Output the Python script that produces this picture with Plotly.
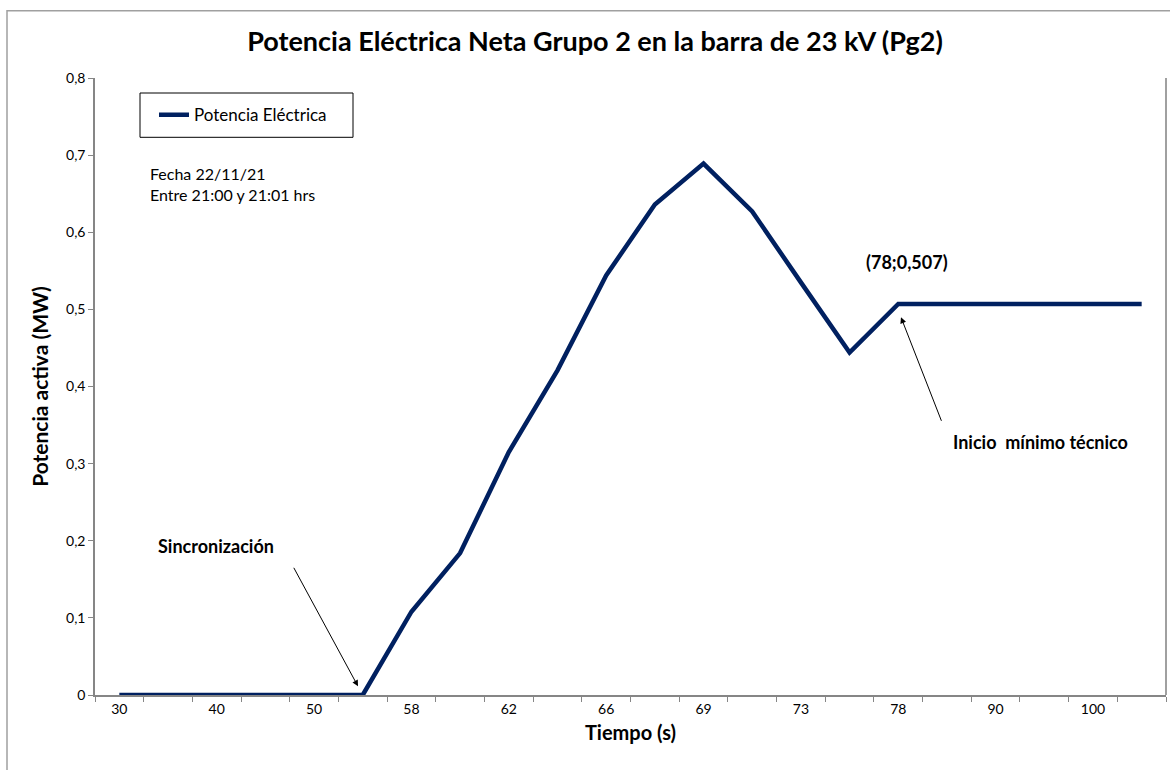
import plotly.graph_objects as go

# Data
potencia = [0, 0, 0, 0, 0, 0,
            0.108, 0.184, 0.315, 0.421, 0.544, 0.636, 0.689,
            0.627, 0.535, 0.444, 0.507,
            0.507, 0.507, 0.507, 0.507, 0.507]
etiquetas_x = ["30", "40", "50", "58", "62", "66", "69", "73", "78", "90", "100"]
serie_nombre = "Potencia Eléctrica"

FONT = "Lato, 'Open Sans', sans-serif"
AXIS_GREY = "#868686"
NAVY = "#002060"

W, H = 1170, 770
L, R, T, B = 95, 1166, 77.7, 694.7   # plot area in pixels


def px(xp):
    return (xp - L) / (R - L)


def py(yp):
    return (B - yp) / (B - T)


n = len(potencia)
x_idx = list(range(n))
tick_pos = list(range(0, 2 * len(etiquetas_x), 2))
minor_pos = [i - 0.5 for i in range(n + 1)]

fig = go.Figure()
fig.add_trace(go.Scatter(
    x=x_idx, y=potencia, mode="lines", name=serie_nombre,
    line=dict(color=NAVY, width=4.5),
    showlegend=True,
))

fig.update_layout(
    width=W, height=H,
    margin=dict(l=L, r=W - R, t=T, b=H - B, autoexpand=False),
    paper_bgcolor="white", plot_bgcolor="white",
    separators=",.",
    font=dict(family=FONT, size=14, color="#000000"),
    title=dict(
        text="<b>Potencia Eléctrica Neta Grupo 2 en la barra de 23 kV (Pg2)</b>",
        font=dict(family=FONT, size=27, color="#000000"),
        xref="container", x=595 / W, xanchor="center",
        yref="container", y=1 - 42 / H, yanchor="middle",
    ),
    showlegend=True,
    legend=dict(
        x=px(154), y=py(97), xanchor="left", yanchor="top",
        bgcolor="rgba(0,0,0,0)", borderwidth=0,
        font=dict(family=FONT, size=17, color="#000000"),
        itemwidth=30,
    ),
)

fig.update_xaxes(
    range=[-0.5, n - 0.5],
    tickmode="array", tickvals=tick_pos, ticktext=etiquetas_x,
    ticks="", showgrid=False, zeroline=False,
    showline=True, linecolor=AXIS_GREY, linewidth=1.5,
    tickfont=dict(family=FONT, size=14, color="#000000"),
    minor=dict(tickmode="array", tickvals=minor_pos, ticks="outside",
               ticklen=5, tickcolor=AXIS_GREY, tickwidth=1, showgrid=False),
    title=dict(text="<b>Tiempo (s)</b>", font=dict(family=FONT, size=20), standoff=10),
)
fig.update_yaxes(
    range=[0, 0.8], dtick=0.1, tick0=0,
    ticks="outside", ticklen=5, tickcolor=AXIS_GREY, tickwidth=1,
    showgrid=False, zeroline=False,
    showline=True, linecolor=AXIS_GREY, linewidth=1.5,
    tickfont=dict(family=FONT, size=14, color="#000000"),
    title=dict(text="<b>Potencia activa (MW)</b>", font=dict(family=FONT, size=21), standoff=12),
)

# Legend frame, right plot edge and outer chart border
fig.add_shape(type="rect", xref="paper", yref="paper",
              x0=px(140), x1=px(353), y0=py(137), y1=py(92.7),
              line=dict(color="#000000", width=1))
fig.add_shape(type="line", xref="paper", yref="paper",
              x0=1, x1=1, y0=0, y1=1,
              line=dict(color="#808080", width=1.5))
fig.add_shape(type="rect", xref="paper", yref="paper",
              x0=px(7), x1=px(1300), y0=py(900), y1=py(10.5),
              line=dict(color="#A0A0A0", width=1.5))

# Text annotations
fig.add_annotation(xref="paper", yref="paper",
                   x=px(148), y=py(162), xanchor="left", yanchor="top", align="left",
                   text="Fecha 22/11/21<br>Entre 21:00 y 21:01 hrs",
                   showarrow=False, font=dict(family=FONT, size=16, color="#000000"))
fig.add_annotation(xref="paper", yref="paper",
                   x=px(215.5), y=py(546), xanchor="center", yanchor="middle",
                   text="<b>Sincronización</b>", showarrow=False,
                   font=dict(family=FONT, size=18, color="#000000"))
fig.add_annotation(xref="paper", yref="paper",
                   x=px(907), y=py(262), xanchor="center", yanchor="middle",
                   text="<b>(78;0,507)</b>", showarrow=False,
                   font=dict(family=FONT, size=18, color="#000000"))
fig.add_annotation(xref="paper", yref="paper",
                   x=px(1040), y=py(442), xanchor="center", yanchor="middle",
                   text="<b>Inicio  mínimo técnico</b>", showarrow=False,
                   font=dict(family=FONT, size=18, color="#000000"))

# Arrows
fig.add_annotation(xref="paper", yref="paper",
                   x=px(358), y=py(686), ax=-65, ay=-120, text="", showarrow=True,
                   arrowhead=2, arrowsize=1.2, arrowwidth=1, arrowcolor="#000000")
fig.add_annotation(xref="paper", yref="paper",
                   x=px(901), y=py(317), ax=41, ay=105, text="", showarrow=True,
                   arrowhead=2, arrowsize=1.2, arrowwidth=1, arrowcolor="#000000")

fig.write_html("out.html",
               config={"displayModeBar": False},
               post_script="document.body.style.margin='0px';document.body.style.overflow='hidden';")
